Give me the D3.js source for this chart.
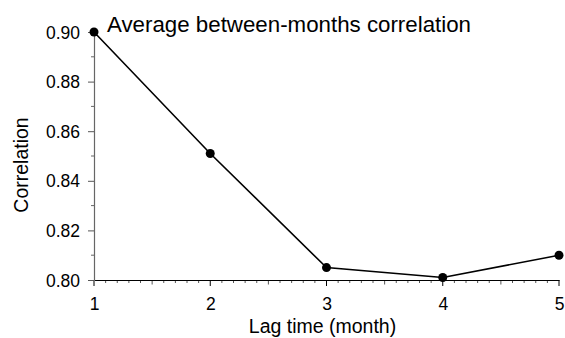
<!DOCTYPE html>
<html>
<head>
<meta charset="utf-8">
<script src="https://cdn.jsdelivr.net/npm/d3@7"></script>
<style>
    body { margin: 0; background: #fff; }
    svg text { font-family: "Liberation Sans", Arial, Helvetica, sans-serif; fill: #000; }
</style>
</head>
<body>
<div id="chart"></div>
<script>
// lag time in months and the average correlation
const lagMonths = [1, 2, 3, 4, 5];
const correlation = [0.900, 0.851, 0.805, 0.801, 0.810];
const yTickValues = [0.80, 0.82, 0.84, 0.86, 0.88, 0.90];
const xTickValues = [1, 2, 3, 4, 5];

const width = 565, height = 338;
const margin = { top: 32, right: 6, bottom: 58, left: 94 };

let svg = d3.select("#chart").append("svg")
    .attr("width", width).attr("height", height);

let x = d3.scaleLinear().domain([1, 5]).range([margin.left, width - margin.right]);
let y = d3.scaleLinear().domain([0.80, 0.90]).range([height - margin.bottom, margin.top]);

// x axis: minor ticks every 0.1, medium at halves, major at whole months
let xMinor = d3.range(10, 51).map(d => d / 10);
svg.append("g").attr("class", "x-minor")
    .selectAll("line").data(xMinor).join("line")
    .attr("x1", d => x(d)).attr("x2", d => x(d))
    .attr("y1", y(0.80))
    .attr("y2", d => {
        let k = Math.round(d * 10);
        if (k % 10 === 0) return y(0.80) + 6;
        if (k % 5 === 0) return y(0.80) + 4.5;
        return y(0.80) + 3;
    })
    .attr("stroke", d => Math.round(d * 10) % 10 === 0 ? "#000" : "#555")
    .attr("stroke-width", 1);

let xAxis = svg.append("g")
    .attr("transform", `translate(0,${y(0.80)})`)
    .call(d3.axisBottom(x).tickValues(xTickValues).tickFormat(d3.format("d")).tickSize(0).tickPadding(18));
xAxis.select(".domain").attr("stroke", "#000").attr("stroke-width", 1.2);
xAxis.selectAll("text").style("font-size", "17.5px");

// y axis: minor ticks at the odd hundredths
let yMinor = d3.range(81, 90, 2).map(d => d / 100);
svg.append("g").attr("class", "y-minor")
    .selectAll("line").data(yMinor).join("line")
    .attr("x1", x(1) - 3).attr("x2", x(1))
    .attr("y1", d => y(d)).attr("y2", d => y(d))
    .attr("stroke", "#666").attr("stroke-width", 1);

let yAxis = svg.append("g")
    .attr("transform", `translate(${x(1)},0)`)
    .call(d3.axisLeft(y).tickValues(yTickValues).tickFormat(d3.format(".2f")).tickSizeOuter(0).tickSize(6).tickPadding(8));
yAxis.select(".domain").attr("stroke", "#666").attr("stroke-width", 1.2);
yAxis.selectAll(".tick line").attr("stroke", "#555");
yAxis.selectAll("text").style("font-size", "17.5px").attr("dy", "0.35em");

// the series
let pts = lagMonths.map((m, i) => ({ m: m, r: correlation[i] }));
let line = d3.line().x(d => x(d.m)).y(d => y(d.r));
svg.append("path").datum(pts)
    .attr("d", line)
    .attr("fill", "none")
    .attr("stroke", "#000")
    .attr("stroke-width", 1.6);

svg.append("g").selectAll("circle").data(pts).join("circle")
    .attr("cx", d => x(d.m)).attr("cy", d => y(d.r))
    .attr("r", 4.5).attr("fill", "#000");

// labels
svg.append("text")
    .attr("x", 107).attr("y", 32)
    .style("font-size", "22.3px")
    .text("Average between-months correlation");

svg.append("text")
    .attr("x", (x(1) + x(5)) / 2 - 4).attr("y", 333)
    .attr("text-anchor", "middle")
    .style("font-size", "19.5px")
    .text("Lag time (month)");

svg.append("text")
    .attr("transform", `translate(28,${(y(0.80) + y(0.90)) / 2 + 9}) rotate(-90)`)
    .attr("text-anchor", "middle")
    .style("font-size", "19.5px")
    .text("Correlation");
</script>
</body>
</html>
